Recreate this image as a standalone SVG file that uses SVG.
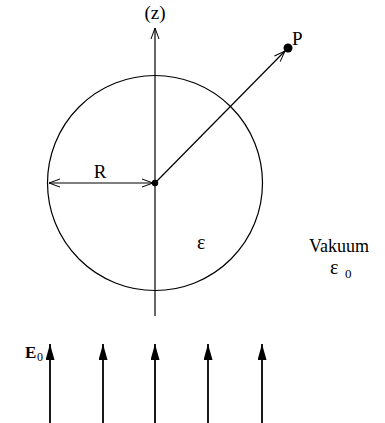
<svg xmlns="http://www.w3.org/2000/svg" width="385" height="423" viewBox="0 0 385 423">
<style>
.ln{stroke:#000;stroke-width:1.2;fill:none}
.fa{stroke:#000;stroke-width:1.8;fill:none}
.t{font-family:'Liberation Serif',serif;fill:#000}
</style>
<defs>
<marker id="open" markerWidth="14" markerHeight="10" refX="12" refY="5" orient="auto" markerUnits="userSpaceOnUse">
<path d="M1,1 L12,5 L1,9" fill="none" stroke="#000" stroke-width="1"/>
</marker>
<marker id="solid" viewBox="0 0 16 9" refX="16" refY="4.5" markerWidth="16" markerHeight="9" orient="auto" markerUnits="userSpaceOnUse">
<path d="M0,0 L16,4.5 L0,9 Z" fill="#000"/>
</marker>
</defs>
<g id="sphere">
<circle cx="155" cy="183" r="107.5" class="ln"/>
<text class="t" x="197" y="249" font-size="20" font-family="Liberation Serif, serif">ε</text>
</g>
<g id="connectors">
<line x1="155" y1="316" x2="155" y2="28" class="ln" marker-end="url(#open)"/>
<line x1="155" y1="183" x2="285" y2="51" class="ln" marker-end="url(#open)"/>
<line x1="100" y1="183" x2="49" y2="183" class="ln" marker-end="url(#open)"/>
<line x1="100" y1="183" x2="153" y2="183" class="ln" marker-end="url(#open)"/>
</g>
<g id="center"><circle cx="155" cy="183" r="3.2" fill="#000"/></g>
<g id="z-label"><text class="t" x="155" y="19" font-size="19" text-anchor="middle" font-family="Liberation Serif, serif">(z)</text></g>
<g id="point-P">
<circle cx="288" cy="48" r="4.5" fill="#000"/>
<text class="t" x="292" y="45" font-size="19" font-family="Liberation Serif, serif">P</text>
</g>
<g id="R-label"><text class="t" x="100" y="178" font-size="19" text-anchor="middle" font-family="Liberation Serif, serif">R</text></g>
<g id="vacuum">
<text class="t" x="309" y="252" font-size="18" font-family="Liberation Serif, serif">Vakuum</text>
<text class="t" x="330" y="274" font-size="20" font-family="Liberation Serif, serif">ε</text>
<text class="t" x="345" y="278" font-size="13" font-family="Liberation Serif, serif">0</text>
</g>
<g id="E0-label">
<text class="t" x="25" y="358" font-size="17" font-weight="bold" font-family="Liberation Serif, serif">E</text>
<text class="t" x="37" y="361" font-size="12" font-family="Liberation Serif, serif">0</text>
</g>
<g id="field-arrows">
<line x1="50" y1="423" x2="50" y2="344" class="fa" marker-end="url(#solid)"/>
<line x1="103" y1="423" x2="103" y2="344" class="fa" marker-end="url(#solid)"/>
<line x1="155" y1="423" x2="155" y2="344" class="fa" marker-end="url(#solid)"/>
<line x1="208" y1="423" x2="208" y2="344" class="fa" marker-end="url(#solid)"/>
<line x1="262" y1="423" x2="262" y2="344" class="fa" marker-end="url(#solid)"/>
</g>
</svg>
